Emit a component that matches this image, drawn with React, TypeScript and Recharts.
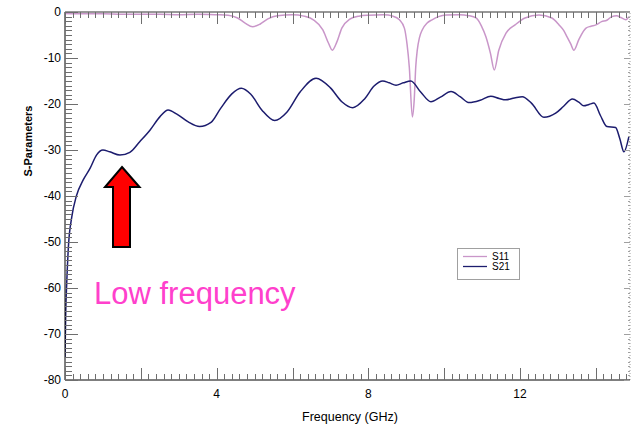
import { LineChart, Line, XAxis, YAxis, ReferenceLine } from "recharts";

// S21 trace (dB)
const s21Freq = [
  0, 0.02, 0.045, 0.09, 0.18, 0.3, 0.48, 0.66, 0.83, 1.0, 1.18, 1.45, 1.71, 1.97, 2.24, 2.5, 2.72, 2.95, 3.25,
  3.55, 3.85, 4.1, 4.4, 4.65, 4.9, 5.2, 5.53, 5.85, 6.2, 6.62, 7.0, 7.3, 7.59, 7.9, 8.15, 8.38, 8.55, 8.73, 8.92,
  9.12, 9.38, 9.65, 9.9, 10.18, 10.42, 10.66, 10.95, 11.23, 11.45, 11.62, 11.85, 12.06, 12.3, 12.63, 12.94, 13.15,
  13.38, 13.55, 13.68, 13.82, 13.95, 14.12, 14.29, 14.52, 14.63, 14.74, 14.87,
];
const s21Db = [
  -75, -65, -59, -51, -44.5, -40, -36.5, -34, -31.1, -30, -30.4, -31.1, -30.5, -28.2, -25.7, -22.8, -21.3, -22.2,
  -23.9, -24.9, -24, -21, -17.8, -16.6, -17.9, -21.4, -23.6, -21.8, -17.4, -14.4, -16.5, -19.5, -20.8, -18.9,
  -16.1, -15, -15.4, -15.9, -15.4, -15, -17.4, -19.5, -18.5, -17.3, -18.4, -19.7, -19.2, -18.3, -18.8, -19.1,
  -18.7, -18.4, -19.8, -22.9, -22, -20.5, -18.9, -19.6, -20.4, -20.1, -19.8, -22.5, -24.9, -25.1, -27.5, -30.4,
  -27.1,
];

// S11 trace (dB)
const s11Freq = [
  0, 0.5, 1, 1.5, 2, 2.5, 3, 3.5, 4, 4.3, 4.55, 4.75, 4.95, 5.15, 5.35, 5.6, 6.0, 6.3, 6.55, 6.8, 6.95, 7.05, 7.17,
  7.3, 7.5, 7.75, 8.0, 8.4, 8.65, 8.82, 8.95, 9.02, 9.08, 9.16, 9.21, 9.25, 9.29, 9.35, 9.42, 9.55, 9.68, 9.85,
  10.05, 10.4, 10.65, 10.84, 10.98, 11.1, 11.22, 11.32, 11.44, 11.63, 11.87, 12.13, 12.5, 12.84, 13.03, 13.15,
  13.24, 13.34, 13.42, 13.55, 13.74, 13.87, 14.0, 14.15, 14.29, 14.42, 14.55, 14.66, 14.79, 14.87,
];
const s11Db = [
  -0.3, -0.4, -0.4, -0.5, -0.5, -0.5, -0.6, -0.5, -0.6, -0.7, -1.3, -2.4, -3.2, -2.6, -1.5, -0.8, -0.6, -0.9, -1.7,
  -3.9, -6.8, -8.3, -6.5, -3.5, -1.6, -0.9, -0.7, -0.6, -0.9, -1.7, -3.5, -7, -12, -22.8, -19, -11.9, -8.3, -5.5,
  -3.9, -2.4, -1.7, -1.0, -0.65, -0.6, -0.8, -1.3, -3, -5.4, -9, -12.6, -8.3, -4.6, -2.8, -1.3, -0.65, -1.3, -2.8,
  -4, -5.4, -7, -8.3, -6, -3.5, -3.1, -2.8, -2.1, -1.8, -1.0, -0.8, -1.2, -1.7, -1.0,
];

const seriesNames = ["S11", "S21"];
const seriesColors = ["#c996c9", "#1c1c6e"];

const xLabelTicks = [0, 4, 8, 12];
const yLabelTicks = [-80, -70, -60, -50, -40, -30, -20, -10, 0];

const X_MAX = 14.9;
const Y_MIN = -80;
const W = 631;
const H = 429;
const PLOT_LEFT = 65;
const PLOT_TOP = 12;
const PLOT_RIGHT = 630;
const PLOT_BOTTOM = 380;
const FONT = "Liberation Sans, Arial, sans-serif";
const TICK = "#6e6e6e";

const s21Data = s21Freq.map((f, i) => ({ f, db: s21Db[i] }));
const s11Data = s11Freq.map((f, i) => ({ f, db: s11Db[i] }));

// tick mark positions (minor every 0.2 GHz / 1 dB)
const xTicks = Array.from({ length: 75 }, (_, i) => Math.round(i * 2) / 10);
const yTicks = Array.from({ length: 81 }, (_, i) => i - 80);

const isMult = (v: number, m: number) => Math.abs(v / m - Math.round(v / m)) < 1e-6;

// same linear mapping as the chart's plot area, used only for the edge tick marks
const xPx = (v: number) => Math.round(PLOT_LEFT + (v / X_MAX) * (PLOT_RIGHT - PLOT_LEFT)) + 0.5;
const yPx = (v: number) => Math.round(PLOT_TOP + ((0 - v) / (0 - Y_MIN)) * (PLOT_BOTTOM - PLOT_TOP)) + 0.5;

const BottomLabel = ({ x, y, payload }: any) =>
  xLabelTicks.includes(payload.value) ? (
    <text x={x} y={y + 18} textAnchor="middle" fontSize={12} fontFamily={FONT} fill="#000">
      {payload.value}
    </text>
  ) : (
    <g />
  );

const LeftLabel = ({ x, y, payload }: any) =>
  yLabelTicks.includes(payload.value) ? (
    <text x={x - 4} y={y + 4} textAnchor="end" fontSize={12} fontFamily={FONT} fill="#000">
      {payload.value}
    </text>
  ) : (
    <g />
  );

const TickMarks = () => (
  <g strokeWidth={1} shapeRendering="crispEdges">
    {xTicks.map((v) => {
      const len = isMult(v, 2) ? 12 : 6;
      const px = xPx(v);
      return (
        <g key={`x${v}`} stroke={TICK}>
          <line x1={px} x2={px} y1={PLOT_BOTTOM} y2={PLOT_BOTTOM - len} />
          <line x1={px} x2={px} y1={PLOT_TOP} y2={PLOT_TOP + len} />
        </g>
      );
    })}
    {yTicks.map((v) => {
      const major = isMult(v, 10);
      const py = yPx(v);
      return (
        <g key={`y${v}`}>
          <line x1={PLOT_LEFT} x2={PLOT_LEFT + (major ? 13 : 7)} y1={py} y2={py} stroke={TICK} />
          <line x1={PLOT_RIGHT} x2={PLOT_RIGHT - (major ? 6 : 2)} y1={py} y2={py} stroke="#a0a0a0" />
        </g>
      );
    })}
  </g>
);

const Overlay = () => (
  <svg width={W} height={H} style={{ position: "absolute", left: 0, top: 0, pointerEvents: "none" }}>
    <TickMarks />
    <text
      x={28}
      y={141}
      transform="rotate(-90 28 141)"
      textAnchor="middle"
      dominantBaseline="central"
      fontSize={11}
      fontWeight="bold"
      fontFamily={FONT}
      fill="#000"
    >
      S-Parameters
    </text>
    <text x={350} y={421} textAnchor="middle" fontSize={12.5} fontFamily={FONT} fill="#000">
      Frequency (GHz)
    </text>
    <text x={94} y={304} fontSize={31} fontFamily={FONT} fill="#ff40cc">
      Low frequency
    </text>
    <polygon
      points="122,167 139.5,187 130,187 130,247 113,247 113,187 105,187"
      fill="#ff0000"
      stroke="#000"
      strokeWidth={2}
    />
    <g fontFamily={FONT} fontSize={10} fill="#000">
      <rect x={457.5} y={248.5} width={62} height={31} fill="#fff" stroke="#a0a0a0" />
      {seriesNames.map((name, i) => (
        <g key={name}>
          <line x1={463} x2={487} y1={256.5 + i * 10} y2={256.5 + i * 10} stroke={seriesColors[i]} strokeWidth={1.3} />
          <text x={492} y={260 + i * 10}>
            {name}
          </text>
        </g>
      ))}
    </g>
  </svg>
);

export default function App() {
  return (
    <div style={{ position: "absolute", left: 0, top: 0, width: W, height: H, background: "#fff" }}>
      <LineChart width={W} height={H} margin={{ top: PLOT_TOP, right: W - PLOT_RIGHT, bottom: 0, left: 0 }}>
        <XAxis
          xAxisId="x"
          dataKey="f"
          type="number"
          domain={[0, X_MAX]}
          allowDataOverflow
          ticks={xTicks}
          interval={0}
          height={H - PLOT_BOTTOM - PLOT_TOP + PLOT_TOP}
          tickSize={0}
          tickMargin={0}
          tickLine={false}
          axisLine={{ stroke: "#000" }}
          tick={BottomLabel}
        />
        <YAxis
          yAxisId="y"
          type="number"
          domain={[Y_MIN, 0]}
          allowDataOverflow
          ticks={yTicks}
          interval={0}
          width={PLOT_LEFT}
          tickSize={0}
          tickMargin={0}
          tickLine={false}
          axisLine={{ stroke: "#000" }}
          tick={LeftLabel}
        />
        {/* plot frame: solid top edge, dotted right edge */}
        <ReferenceLine xAxisId="x" yAxisId="y" y={0} stroke="#333" ifOverflow="visible" />
        <ReferenceLine xAxisId="x" yAxisId="y" x={X_MAX} stroke="#a0a0a0" strokeDasharray="1 2" ifOverflow="visible" />
        <Line
          xAxisId="x"
          yAxisId="y"
          data={s11Data}
          dataKey="db"
          name="S11"
          type="monotone"
          stroke={seriesColors[0]}
          strokeWidth={1.5}
          dot={false}
          isAnimationActive={false}
        />
        <Line
          xAxisId="x"
          yAxisId="y"
          data={s21Data}
          dataKey="db"
          name="S21"
          type="monotone"
          stroke={seriesColors[1]}
          strokeWidth={1.5}
          dot={false}
          isAnimationActive={false}
        />
      </LineChart>
      <Overlay />
    </div>
  );
}
